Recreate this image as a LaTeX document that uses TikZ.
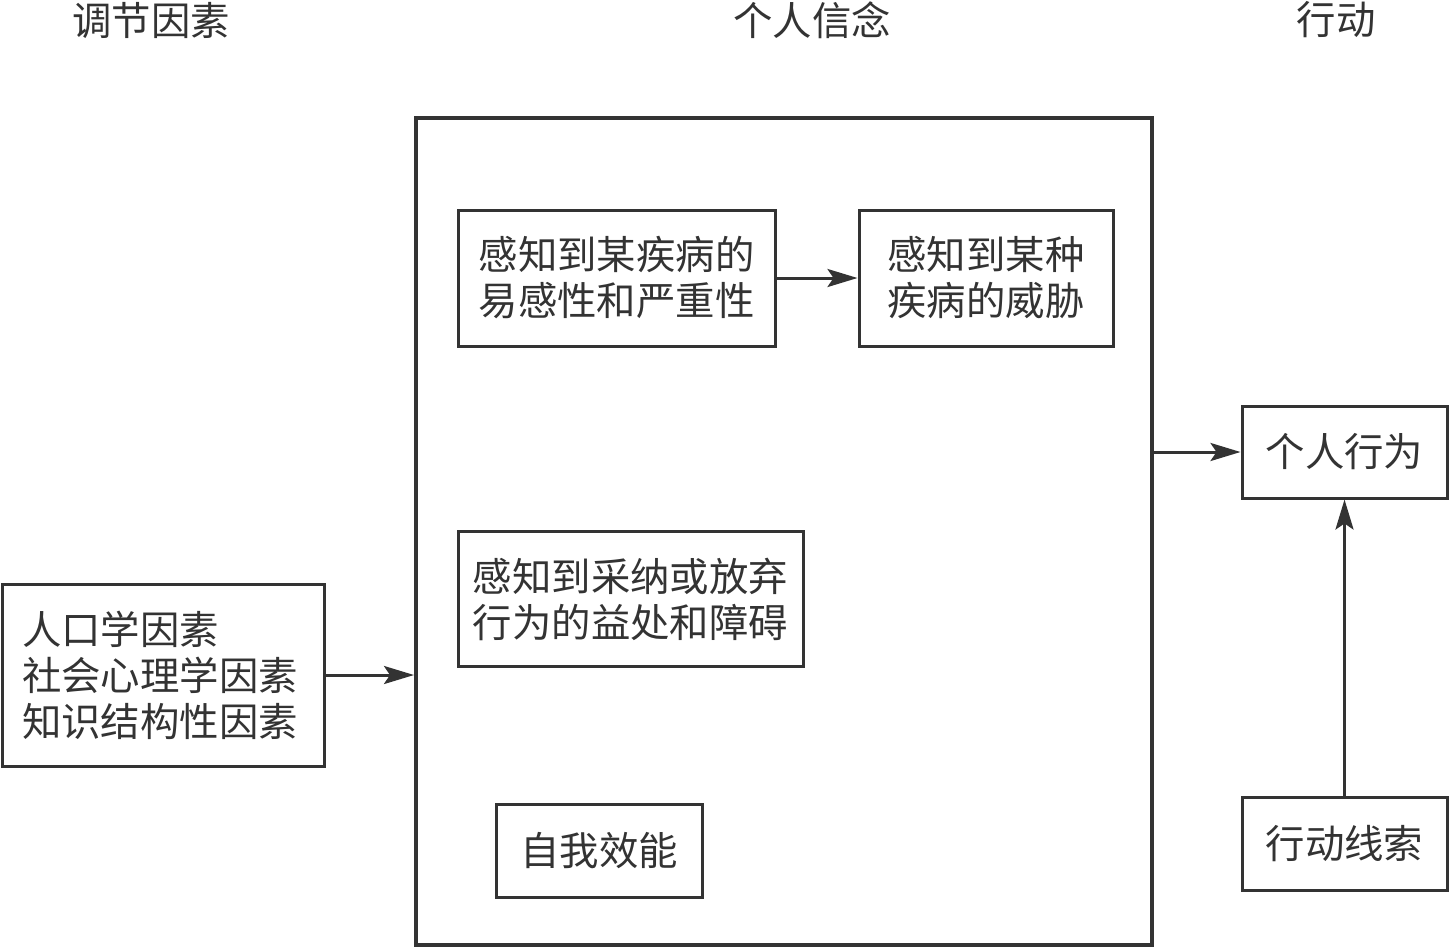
\documentclass[tikz,border=0pt]{standalone}
\usepackage{fontspec}
\setmainfont{Noto Sans CJK SC}
\usetikzlibrary{arrows.meta}
\definecolor{ink}{HTML}{333333}

\begin{document}
\begin{tikzpicture}[x=.5pt, y=-.5pt, draw=ink, text=ink,
	font=\fontsize{19.7}{23}\selectfont,
	box/.style={draw, line width=1.5pt, inner sep=0pt, align=center},
	arr/.style={line width=1.5pt, -{Stealth[length=15pt, width=9pt, inset=3pt]}}]
	\useasboundingbox (0,0) rectangle (1450,949);
	% column titles
	\node (hmod) at (151,20)  {调节因素};
	\node (hbel) at (812,20)  {个人信念};
	\node (hact) at (1336,20) {行动};
	% belief frame
	\node[box, line width=2pt, minimum width=368pt, minimum height=413.5pt] (belief) at (784,531.5) {};
	\node[box, minimum width=158.5pt, minimum height=68pt]  (sus)  at (616.5,278) {感知到某疾病的\\易感性和严重性};
	\node[box, minimum width=127pt,   minimum height=68pt]  (thr)  at (986,278)   {感知到某种\\疾病的威胁};
	\node[box, minimum width=172.5pt, minimum height=67.5pt] (ben) at (630.5,599) {感知到采纳或放弃\\行为的益处和障碍};
	\node[box, minimum width=103pt,   minimum height=46.5pt] (eff)  at (599,851) {自我效能};
	% modifying factors
	\node[box, align=left, text width=141pt, minimum height=91pt, inner xsep=10pt] (mod) at (163,675)
		{人口学因素\\社会心理学因素\\知识结构性因素};
	% action
	\node[box, minimum width=102.5pt, minimum height=46pt]  (act)  at (1344.5,452)   {个人行为};
	\node[box, minimum width=102.5pt, minimum height=46.5pt] (cue) at (1344.5,844) {行动线索};
	\draw[arr] (sus) -- (thr);
	\draw[arr] (mod) -- (mod -| belief.west);
	\draw[arr] (act.west -| belief.east) -- (act);
	\draw[arr] (cue) -- (act);
\end{tikzpicture}
\end{document}
